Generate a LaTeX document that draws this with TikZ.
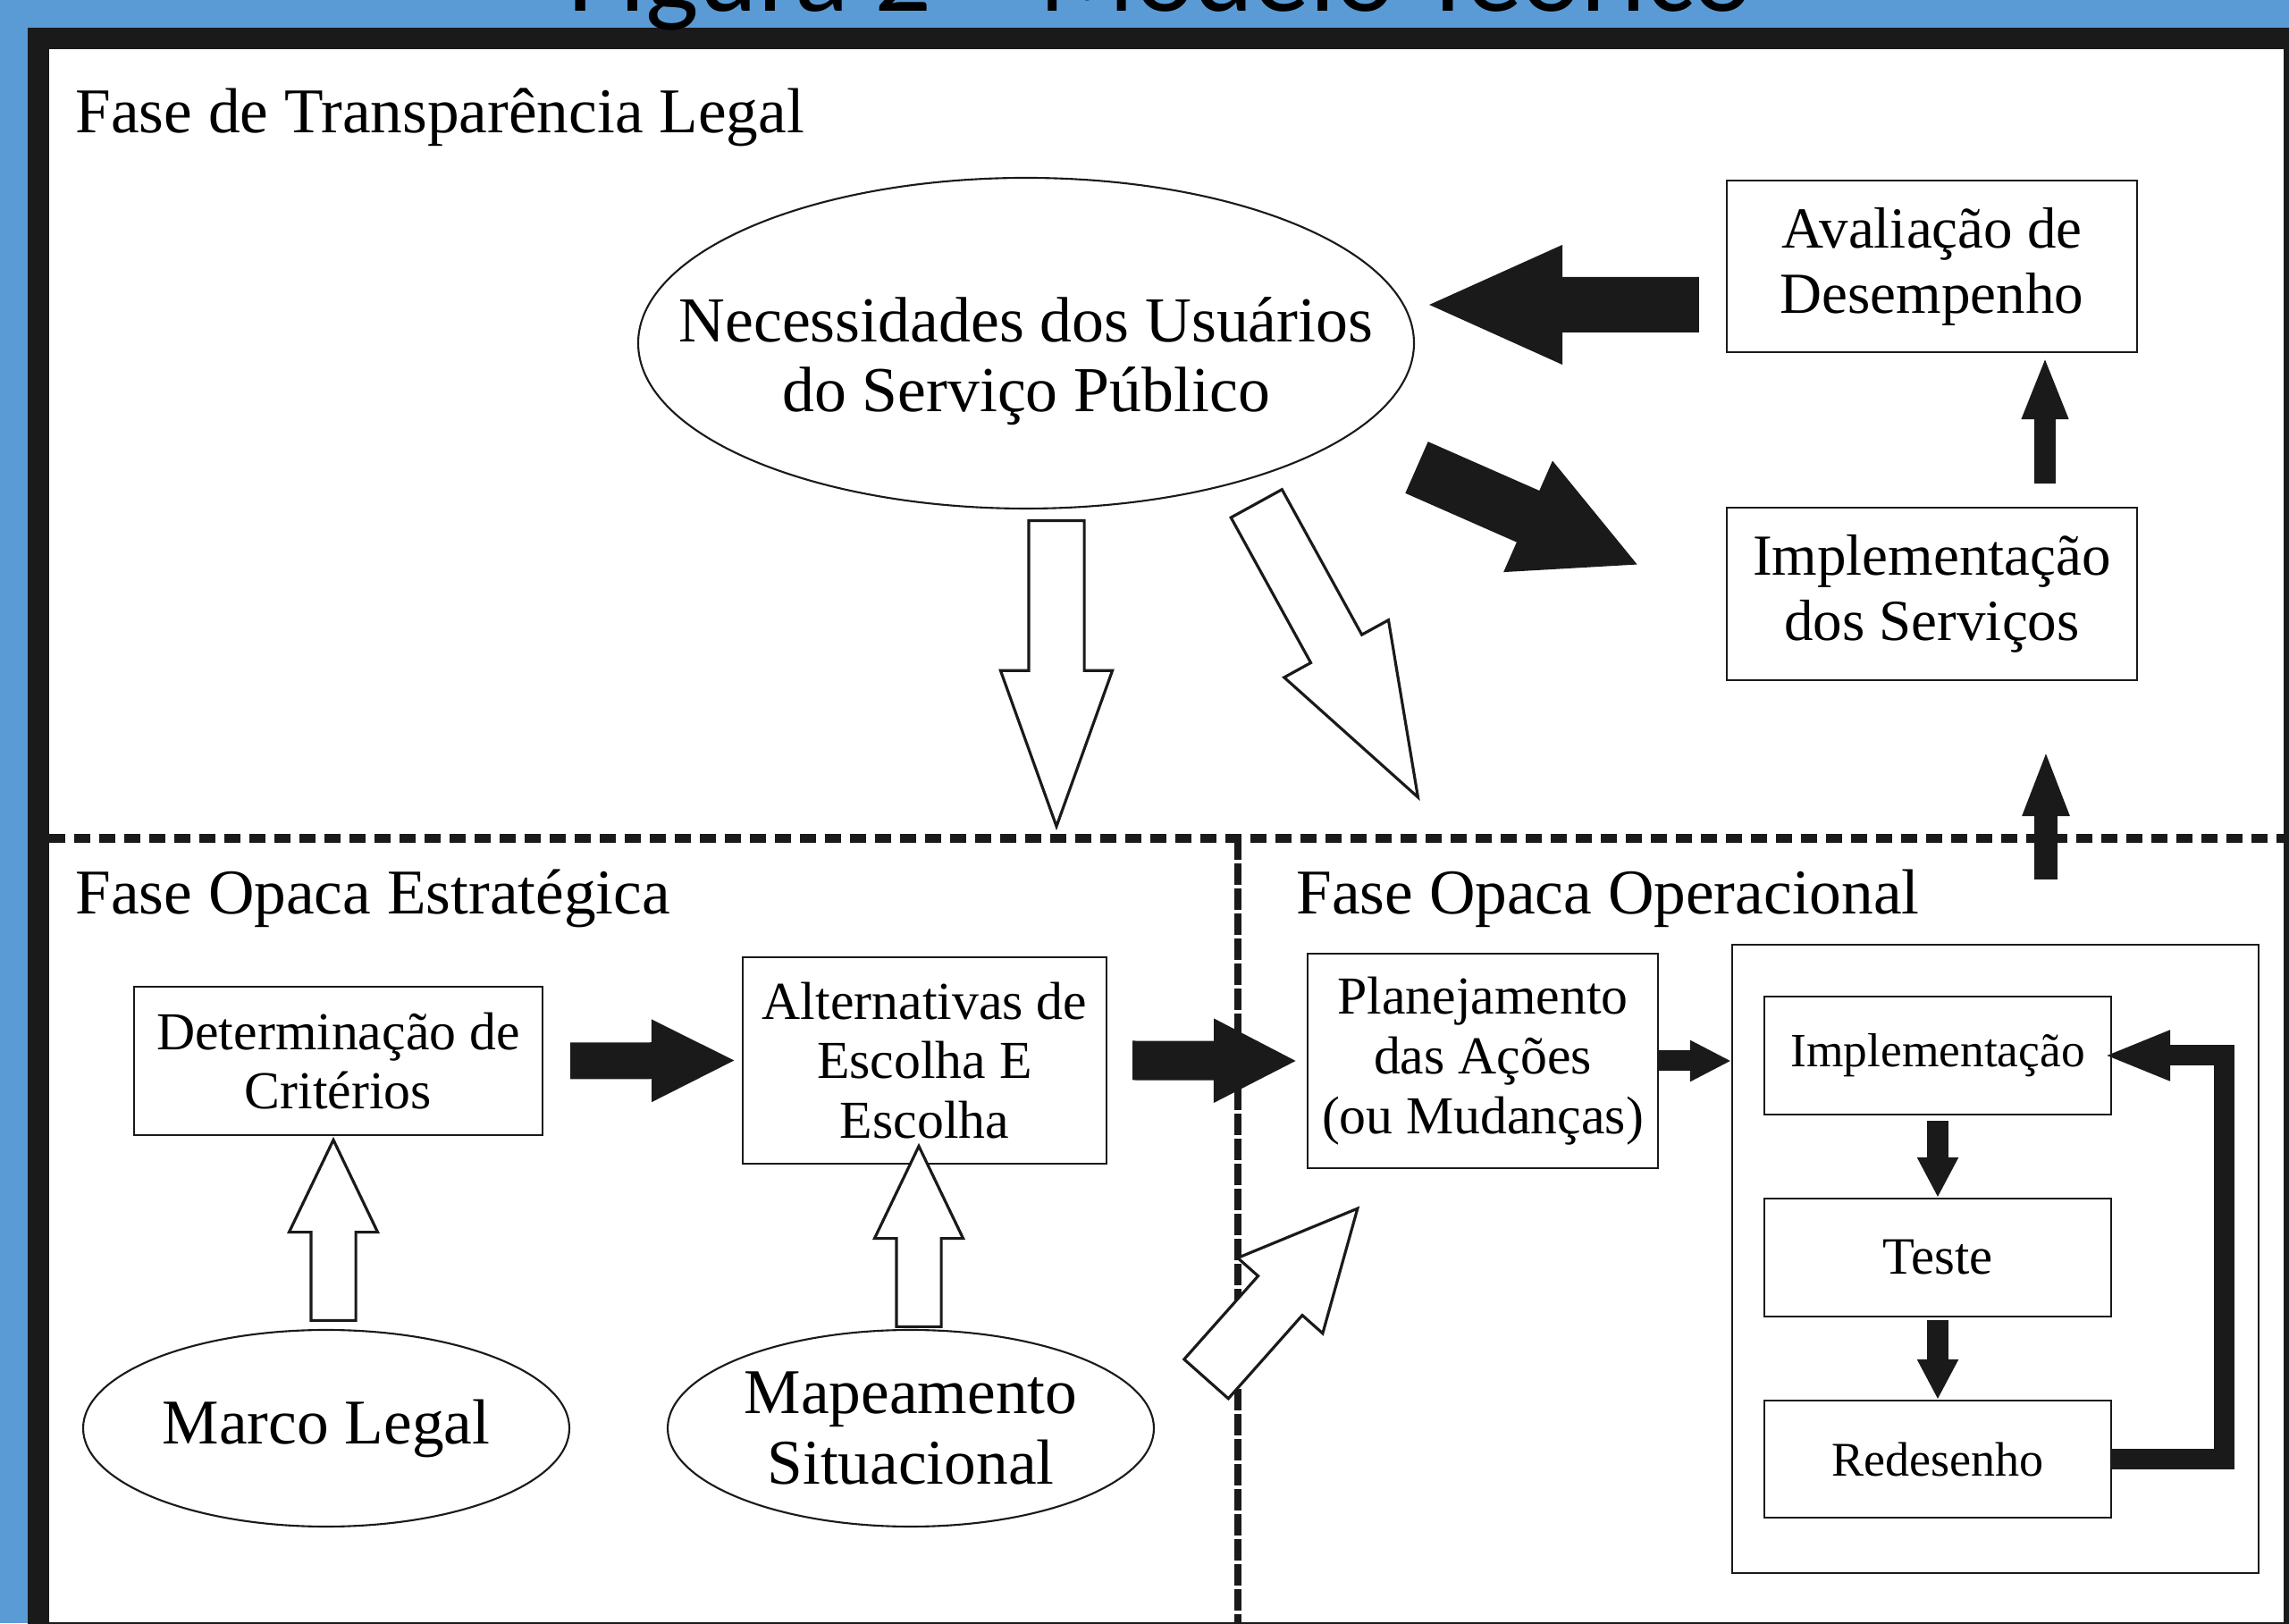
\documentclass[tikz,border=0pt]{standalone}
\usepackage{fontspec}
\setmainfont{Liberation Serif}
\newfontfamily\slidefont{Carlito}
\usetikzlibrary{arrows.meta,shapes.geometric,shapes.arrows}

\definecolor{slideblue}{RGB}{91,155,213}
\definecolor{ink}{RGB}{26,26,26}

\begin{document}
\begin{tikzpicture}[
    box/.style={draw=ink,line width=0.6pt,align=center,inner sep=0pt},
    oval/.style={ellipse,draw=ink,line width=0.6pt,inner sep=0pt},
    phase/.style={anchor=base west,font=\fontsize{20.3}{24}\selectfont},
    blk/.style n args={3}{draw=ink,line width=#1,-{Triangle[length=#2,width=#3]}},
    hollow/.style n args={4}{single arrow,draw=ink,fill=white,line width=0.9pt,inner xsep=0pt,anchor=tail,
      inner ysep=#2,minimum height=#1,single arrow head extend=#3,single arrow tip angle=#4}]
  \useasboundingbox (0,0) rectangle (25.61,18.16);
  \clip (0,0) rectangle (25.61,18.16);
  % slide background and frame
  \fill[slideblue] (0,0) rectangle (25.61,18.16);
  \fill[ink] (0.31,-1) rectangle (27,17.85);
  \fill[white] (0.55,0.01) rectangle (25.55,17.61);
  \node[anchor=base,font=\slidefont\fontsize{35.9}{40}\selectfont] (fig) at (12.985,18.03) {Figura 2 – Modelo Teórico};

  % phase borders
  \draw[ink,line width=1mm,dash pattern=on 1.8mm off 1mm] (0.55,8.78) -- (25.61,8.78);
  \draw[ink,line width=0.8mm,dash pattern=on 2.4mm off 0.4mm] (13.85,8.78) -- (13.85,0);

  \node[phase] (ptl) at (0.72,16.67) {Fase de Transparência Legal};
  \node[phase] (pest) at (0.72,7.93) {Fase Opaca Estratégica};
  \node[phase] (pop) at (14.38,7.93) {Fase Opaca Operacional};

  % transparency phase
  \node[oval,minimum width=8.68cm,minimum height=3.70cm] (nec) at (11.48,14.32) {};
  \node[align=center,font=\fontsize{20.4}{22.2}\selectfont] (nect) at ([yshift=-2mm]nec.center) {Necessidades dos Usuários\\do Serviço Público};
  \node[box,minimum width=4.59cm,minimum height=1.92cm,font=\fontsize{18.5}{20.8}\selectfont] (aval) at (21.615,15.18) {Avaliação de\\Desempenho};
  \node[box,minimum width=4.59cm,minimum height=1.93cm,font=\fontsize{18.5}{20.8}\selectfont] (impS) at (21.615,11.515) {Implementação\\dos Serviços};

  % strategic phase
  \node[box,minimum width=4.57cm,minimum height=1.66cm,font=\fontsize{17}{19}\selectfont] (det) at (3.785,6.29) {Determinação de\\Critérios};
  \node[box,minimum width=4.07cm,minimum height=2.31cm,font=\fontsize{17}{19}\selectfont] (alt) at (10.345,6.295) {Alternativas de\\Escolha E\\Escolha};
  \node[oval,minimum width=5.44cm,minimum height=2.20cm] (marco) at (3.65,2.18) {};
  \node[font=\fontsize{20.3}{22.2}\selectfont] (marcot) at (marco.center) {Marco Legal};
  \node[oval,minimum width=5.44cm,minimum height=2.20cm] (mapa) at (10.19,2.18) {};
  \node[align=center,font=\fontsize{20.3}{22.2}\selectfont] (mapat) at (mapa.center) {Mapeamento\\Situacional};

  % operational phase
  \node[box,minimum width=3.92cm,minimum height=2.40cm,font=\fontsize{17}{19}\selectfont] (plan) at (16.59,6.29) {Planejamento\\das Ações\\(ou Mudanças)};
  \node[box,minimum width=5.89cm,minimum height=7.03cm] (ops) at (22.325,4.075) {};
  \node[box,minimum width=3.88cm,minimum height=1.32cm,font=\fontsize{15.2}{18}\selectfont] (imp) at (21.68,6.35) {Implementação};
  \node[box,minimum width=3.88cm,minimum height=1.32cm,font=\fontsize{16.7}{20}\selectfont] (teste) at (21.68,4.09) {Teste};
  \node[box,minimum width=3.88cm,minimum height=1.31cm,font=\fontsize{15.4}{18}\selectfont] (red) at (21.68,1.835) {Redesenho};

  % black arrows
  \draw[blk={6.2mm}{15.5mm}{12.1mm}] ([shift={(-0.30,-0.43)}]aval.west) -- ([shift={(0.10,0.43)}]nec.east);
  \draw[blk={6.3mm}{13.7mm}{12.5mm}] ([shift={(4.37,-1.39)}]nec.center) -- ([shift={(-0.96,0.315)}]impS.west);
  \draw[blk={2.4mm}{7.1mm}{4.7mm}] ([shift={(1.265,0.26)}]impS.north) -- ([shift={(1.265,-0.03)}]aval.south);
  \draw[blk={2.6mm}{7.5mm}{4.7mm}] ([shift={(0.565,0.72)}]ops.north) -- ([shift={(1.275,-0.76)}]impS.south);
  \draw[blk={4.1mm}{9.5mm}{8.5mm}] ([xshift=3mm]det.east) -- ([xshift=-0.6mm]alt.west);
  \draw[blk={4.4mm}{9.4mm}{8.7mm}] ([xshift=2.8mm]alt.east) -- ([xshift=-1mm]plan.west);
  \draw[blk={2.3mm}{4.6mm}{4.3mm}] (plan.east) -- (plan.east -| ops.west);
  \draw[blk={2.4mm}{4.5mm}{4.3mm}] ([yshift=-0.6mm]imp.south) -- (teste.north);
  \draw[blk={2.4mm}{4.5mm}{4.3mm}] ([yshift=-0.3mm]teste.south) -- (red.north);
  \draw[blk={2.3mm}{7.5mm}{5.1mm},line join=miter] (red.east) -- ++(1.25,0) |- ([xshift=-1mm]imp.east);

  % white arrows
  \node[hollow={3.42cm}{0.295cm}{0.315cm}{39.5},rotate=-90] (h1) at (11.82,12.35) {};
  \node[hollow={3.75cm}{0.31cm}{0.34cm}{38.7},rotate=-61.2] (h2) at (14.05,12.54) {};
  \node[hollow={2.02cm}{0.235cm}{0.245cm}{51.3},rotate=90] (h3) at (3.73,3.37) {};
  \node[hollow={2.02cm}{0.235cm}{0.245cm}{51.3},rotate=90] (h4) at (10.28,3.30) {};
  \node[hollow={2.55cm}{0.315cm}{0.305cm}{52},rotate=48.4] (h5) at (13.485,2.72) {};
\end{tikzpicture}
\end{document}
